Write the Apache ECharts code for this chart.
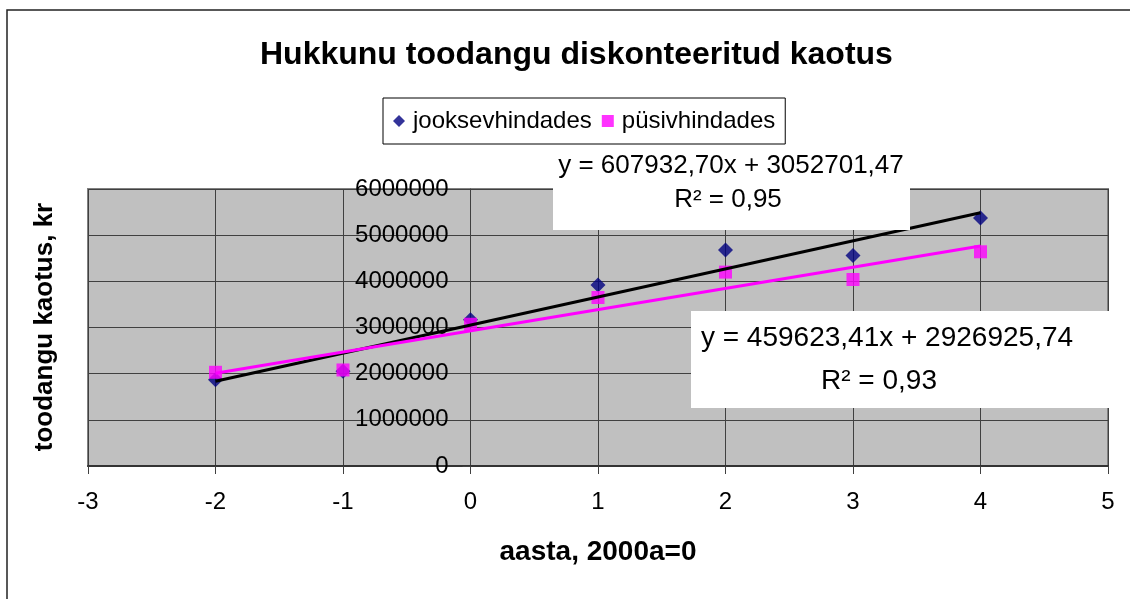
<!DOCTYPE html>
<html>
<head>
<meta charset="utf-8">
<script src="https://cdn.jsdelivr.net/npm/echarts@6/dist/echarts.min.js"></script>
<style>
  html, body { margin: 0; padding: 0; background: #fff; }
  #chart { width: 1130px; height: 599px; }
</style>
</head>
<body>
<div id="chart"></div>
<script>
// aasta (2000a = 0)
const years = [-2, -1, 0, 1, 2, 3, 4]
// jooksevhindades, kr
const jooksev = [1870000, 2050000, 3170000, 3920000, 4680000, 4560000, 5370000]
// püsivhindades, kr
const pusiv = [2030000, 2080000, 3070000, 3650000, 4200000, 4040000, 4640000]
// trendijoonte otspunktid (võrrandid joonisel)
const trendX = [-2, 4]
const trendJooksev = [1836836, 5484433]
const trendPusiv = [2007679, 4765419]
const eq1 = ['y = 607932,70x + 3052701,47', 'R² = 0,95']
const eq2 = ['y = 459623,41x + 2926925,74', 'R² = 0,93']

const font = 'Liberation Sans, Arial, sans-serif'
const pairs = (xs, ys) => xs.map((x, i) => [x, ys[i]])

// joonise ala: x -3..5 laiusel 1020px, y-telg läheb x=0 kohalt
const gridLeft = 88, gridRight = 22
const plotWidth = 1130 - gridLeft - gridRight
const yAxisShift = plotWidth * 3 / 8

const chart = echarts.init(document.getElementById('chart'))
chart.setOption({
    animation: false,
    title: {
        text: 'Hukkunu toodangu diskonteeritud kaotus',
        left: 255,
        top: 34,
        textStyle: { fontFamily: font, fontSize: 32, fontWeight: 'bold', color: '#000' }
    },
    legend: {
        data: ['jooksevhindades', 'püsivhindades'],
        left: 383,
        top: 98,
        padding: [11, 10, 11, 10],
        itemGap: 10,
        itemWidth: 12,
        itemHeight: 12,
        backgroundColor: '#fff',
        borderColor: '#000',
        borderWidth: 1,
        borderRadius: 0,
        textStyle: { fontFamily: font, fontSize: 24, color: '#000', padding: [0, 0, 0, 3] }
    },
    grid: {
        left: gridLeft,
        right: gridRight,
        top: 189,
        bottom: 133,
        outerBoundsMode: 'none',
        show: true,
        backgroundColor: '#c0c0c0',
        borderColor: '#808080',
        borderWidth: 2
    },
    xAxis: {
        type: 'value',
        min: -3,
        max: 5,
        interval: 1,
        name: 'aasta, 2000a=0',
        nameLocation: 'middle',
        nameGap: 72,
        nameTextStyle: { fontFamily: font, fontSize: 28, fontWeight: 'bold', color: '#000' },
        axisLine: { onZero: false, lineStyle: { color: '#333', width: 2 } },
        axisTick: { show: true, length: 8, lineStyle: { color: '#404040' } },
        axisLabel: { fontFamily: font, fontSize: 24, color: '#000', margin: 24 },
        splitLine: { show: true, lineStyle: { color: '#404040', width: 1 } }
    },
    yAxis: {
        type: 'value',
        min: 0,
        max: 6000000,
        interval: 1000000,
        offset: -yAxisShift,
        axisLine: { show: true, onZero: false, lineStyle: { color: '#404040', width: 1 } },
        axisTick: { show: true, length: 8, lineStyle: { color: '#404040' } },
        axisLabel: {
            fontFamily: font, fontSize: 24, color: '#000', margin: 22,
            formatter: v => String(v)
        },
        splitLine: { show: true, lineStyle: { color: '#404040', width: 1 } }
    },
    series: [
        {
            name: 'jooksevhindades',
            type: 'scatter',
            symbol: 'diamond',
            symbolSize: 15,
            itemStyle: { color: '#000080' },
            data: pairs(years, jooksev),
            z: 2
        },
        {
            name: 'püsivhindades',
            type: 'scatter',
            symbol: 'rect',
            symbolSize: 13,
            itemStyle: { color: '#ff00ff' },
            data: pairs(years, pusiv),
            z: 3
        },
        {
            name: 'trend jooksev',
            type: 'line',
            showSymbol: false,
            lineStyle: { color: '#000', width: 3 },
            data: pairs(trendX, trendJooksev),
            z: 4
        },
        {
            name: 'trend püsiv',
            type: 'line',
            showSymbol: false,
            lineStyle: { color: '#ff00ff', width: 3 },
            data: pairs(trendX, trendPusiv),
            z: 4
        }
    ],
    graphic: [
        // välimine raam
        { type: 'rect', shape: { x: 7, y: 10, width: 1140, height: 620 }, style: { fill: null, stroke: '#222', lineWidth: 1.5 }, z: 1 },
        // y-telje nimi
        {
            type: 'text', x: 45, y: 327, rotation: Math.PI / 2,
            style: { text: 'toodangu kaotus, kr', fontFamily: font, fontSize: 26, fontWeight: 'bold', fill: '#000', align: 'center', verticalAlign: 'middle' }
        },
        // võrrand 1
        { type: 'rect', shape: { x: 553, y: 148, width: 357, height: 82 }, style: { fill: '#fff' }, z: 10 },
        { type: 'text', x: 731, y: 166, z: 11, style: { text: eq1[0], fontFamily: font, fontSize: 26, fill: '#000', align: 'center', verticalAlign: 'middle' } },
        { type: 'text', x: 728, y: 200, z: 11, style: { text: eq1[1], fontFamily: font, fontSize: 26, fill: '#000', align: 'center', verticalAlign: 'middle' } },
        // võrrand 2
        { type: 'rect', shape: { x: 691, y: 311, width: 426, height: 97 }, style: { fill: '#fff' }, z: 10 },
        { type: 'text', x: 887, y: 338, z: 11, style: { text: eq2[0], fontFamily: font, fontSize: 28, fill: '#000', align: 'center', verticalAlign: 'middle' } },
        { type: 'text', x: 879, y: 381, z: 11, style: { text: eq2[1], fontFamily: font, fontSize: 28, fill: '#000', align: 'center', verticalAlign: 'middle' } }
    ]
})
</script>
</body>
</html>
